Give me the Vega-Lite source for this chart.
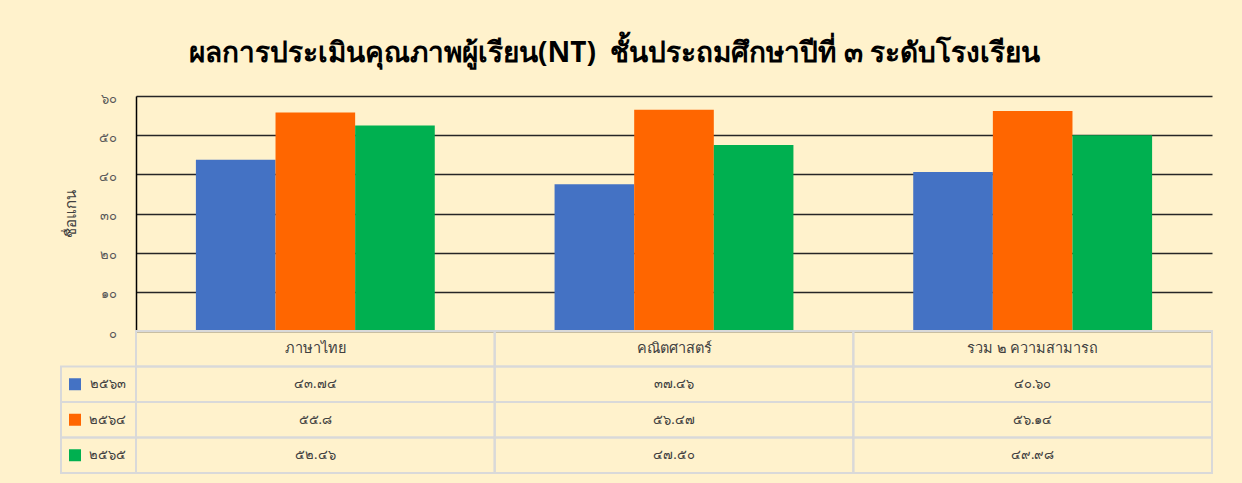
{
  "$schema": "https://vega.github.io/schema/vega-lite/v6.json",
  "background": "#FFF2CC",
  "padding": {"left": 60, "top": 40, "right": 31, "bottom": 10},
  "config": {
    "view": {"stroke": null},
    "font": "Noto Sans",
    "concat": {"spacing": 0}
  },
  "title": {
    "text": "ผลการประเมินคุณภาพผู้เรียน(NT)\u00a0 ชั้นประถมศึกษาปีที่ ๓ ระดับโรงเรียน",
    "fontSize": 28,
    "fontWeight": "bold",
    "color": "#000000",
    "anchor": "middle",
    "offset": 24,
    "dx": -22
  },
  "datasets": {
    "scores": [
      {"subject": "ภาษาไทย", "year": "๒๕๖๓", "score": 43.74, "label": "๔๓.๗๔"},
      {"subject": "ภาษาไทย", "year": "๒๕๖๔", "score": 55.8, "label": "๕๕.๘"},
      {"subject": "ภาษาไทย", "year": "๒๕๖๕", "score": 52.46, "label": "๕๒.๔๖"},
      {"subject": "คณิตศาสตร์", "year": "๒๕๖๓", "score": 37.46, "label": "๓๗.๔๖"},
      {"subject": "คณิตศาสตร์", "year": "๒๕๖๔", "score": 56.47, "label": "๕๖.๔๗"},
      {"subject": "คณิตศาสตร์", "year": "๒๕๖๕", "score": 47.5, "label": "๔๗.๕๐"},
      {"subject": "รวม ๒ ความสามารถ", "year": "๒๕๖๓", "score": 40.6, "label": "๔๐.๖๐"},
      {"subject": "รวม ๒ ความสามารถ", "year": "๒๕๖๔", "score": 56.14, "label": "๕๖.๑๔"},
      {"subject": "รวม ๒ ความสามารถ", "year": "๒๕๖๕", "score": 49.98, "label": "๔๙.๙๘"}
    ]
  },
  "columns": 2,
  "bounds": "flush",
  "concat": [
    {
      "width": 75,
      "height": 235,
      "data": {"values": [{}]},
      "mark": {"type": "text", "opacity": 0},
      "encoding": {"text": {"value": ""}}
    },
    {
      "width": 1076,
      "height": 235,
      "data": {"name": "scores"},
      "mark": {"type": "bar"},
      "encoding": {
        "x": {
          "field": "subject",
          "type": "nominal",
          "sort": null,
          "axis": null,
          "scale": {"paddingInner": 0.334, "paddingOuter": 0.167}
        },
        "xOffset": {
          "field": "year",
          "type": "nominal",
          "sort": null,
          "scale": {"paddingInner": 0, "paddingOuter": 0}
        },
        "y": {
          "field": "score",
          "type": "quantitative",
          "scale": {"domain": [0, 60], "nice": false},
          "axis": {
            "values": [0, 10, 20, 30, 40, 50, 60],
            "title": "ชื่อแกน",
            "titleFontSize": 15,
            "titleFontWeight": "normal",
            "titleColor": "#404040",
            "titlePadding": 20,
            "labelExpr": "replace(replace(replace(replace(replace(replace(replace(datum.label,'0','๐'),'1','๑'),'2','๒'),'3','๓'),'4','๔'),'5','๕'),'6','๖')",
            "labelFontSize": 13,
            "labelColor": "#595959",
            "labelPadding": 20,
            "labelOffset": 2,
            "ticks": false,
            "domain": true,
            "domainColor": "#000000",
            "domainWidth": 1.5,
            "grid": true,
            "gridColor": "#262626",
            "gridWidth": 1.5
          }
        },
        "color": {
          "field": "year",
          "type": "nominal",
          "scale": {"domain": ["๒๕๖๓", "๒๕๖๔", "๒๕๖๕"], "range": ["#4472C4", "#FF6600", "#00B050"]},
          "legend": null
        }
      }
    },
    {
      "width": 75,
      "height": 142,
      "data": {"name": "scores"},
      "transform": [{"filter": "datum.subject == 'ภาษาไทย'"}],
      "encoding": {
        "y": {
          "field": "year",
          "type": "nominal",
          "axis": null,
          "scale": {"domain": ["header", "๒๕๖๓", "๒๕๖๔", "๒๕๖๕"], "paddingInner": 0, "paddingOuter": 0}
        }
      },
      "layer": [
        {
          "mark": {"type": "rect", "fill": null, "stroke": "#D9D9D9", "strokeWidth": 2}
        },
        {
          "mark": {"type": "point", "shape": "square", "filled": true, "size": 144, "opacity": 1},
          "encoding": {
            "x": {"datum": "swatch", "scale": {"type": "point", "domain": ["swatch", "label"], "range": [14, 46.5], "padding": 0}, "axis": null},
            "color": {
              "field": "year",
              "type": "nominal",
              "scale": {"domain": ["๒๕๖๓", "๒๕๖๔", "๒๕๖๕"], "range": ["#4472C4", "#FF6600", "#00B050"]},
              "legend": null
            }
          }
        },
        {
          "mark": {"type": "text", "fontSize": 13, "color": "#404040"},
          "encoding": {
            "x": {"datum": "label", "scale": {"type": "point", "domain": ["swatch", "label"], "range": [14, 46.5], "padding": 0}, "axis": null},
            "text": {"field": "year"}
          }
        }
      ]
    },
    {
      "width": 1076,
      "height": 142,
      "data": {"name": "scores"},
      "encoding": {
        "x": {"field": "subject", "type": "nominal", "sort": null, "axis": null, "scale": {"paddingInner": 0, "paddingOuter": 0}}
      },
      "layer": [
        {
          "mark": {"type": "rect", "fill": null, "stroke": "#D9D9D9", "strokeWidth": 2},
          "encoding": {
            "y": {"field": "year", "type": "nominal", "axis": null, "scale": {"domain": ["header", "๒๕๖๓", "๒๕๖๔", "๒๕๖๕"], "paddingInner": 0, "paddingOuter": 0}}
          }
        },
        {
          "transform": [{"filter": "datum.year == '๒๕๖๓'"}],
          "mark": {"type": "rect", "fill": null, "stroke": "#D9D9D9", "strokeWidth": 2},
          "encoding": {
            "y": {"datum": "header", "type": "nominal", "axis": null, "scale": {"domain": ["header", "๒๕๖๓", "๒๕๖๔", "๒๕๖๕"], "paddingInner": 0, "paddingOuter": 0}}
          }
        },
        {
          "mark": {"type": "text", "fontSize": 13, "color": "#404040"},
          "encoding": {
            "y": {"field": "year", "type": "nominal", "axis": null, "scale": {"domain": ["header", "๒๕๖๓", "๒๕๖๔", "๒๕๖๕"], "paddingInner": 0, "paddingOuter": 0}},
            "text": {"field": "label"}
          }
        },
        {
          "transform": [{"filter": "datum.year == '๒๕๖๓'"}],
          "mark": {"type": "text", "fontSize": 14.5, "color": "#404040"},
          "encoding": {
            "y": {"datum": "header", "type": "nominal", "axis": null, "scale": {"domain": ["header", "๒๕๖๓", "๒๕๖๔", "๒๕๖๕"], "paddingInner": 0, "paddingOuter": 0}},
            "text": {"field": "subject"}
          }
        }
      ]
    }
  ]
}
